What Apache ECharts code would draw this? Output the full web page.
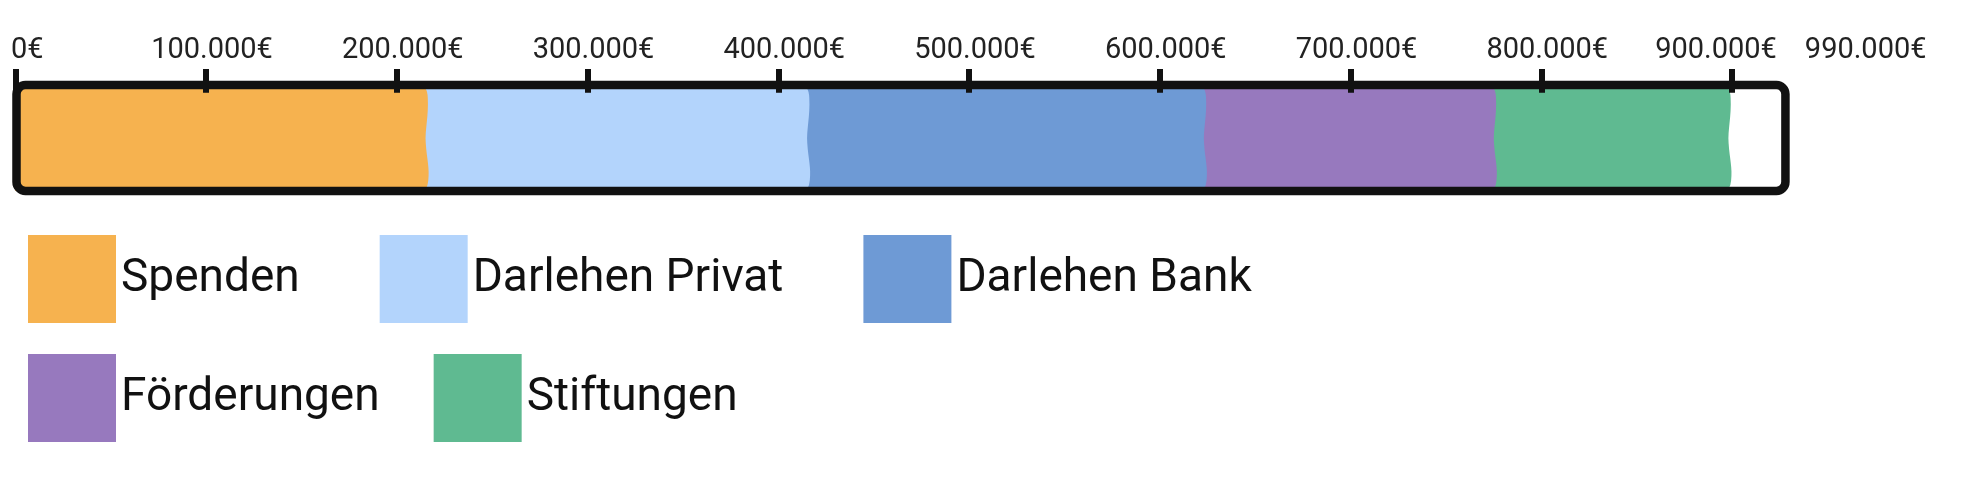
<!DOCTYPE html>
<html>
<head>
<meta charset="utf-8">
<script src="https://cdn.jsdelivr.net/npm/echarts@6/dist/echarts.min.js"></script>
<style>
  html, body { margin: 0; padding: 0; background: #ffffff; }
  #chart { width: 1982px; height: 500px; }
</style>
</head>
<body>
<div id="chart"></div>
<script>
// ---- data ----
const categories = ['Spenden', 'Darlehen Privat', 'Darlehen Bank', 'Förderungen', 'Stiftungen'];
const values = [216000, 200000, 208000, 152000, 123000];
const colors = ['#F6B24F', '#B3D4FC', '#6E9AD5', '#9779BE', '#5FBA91'];
const axisMax = 990000;
const tickValues = [0, 100000, 200000, 300000, 400000, 500000, 600000, 700000, 800000, 900000];
const labelValues = [0, 100000, 200000, 300000, 400000, 500000, 600000, 700000, 800000, 900000, 990000];
const frameEnd = 928000;
const legendRow1 = categories.slice(0, 3);
const legendRow2 = categories.slice(3);

// ---- helpers ----
function fmtEuro(v) {
  return String(v).replace(/\B(?=(\d{3})+(?!\d))/g, '.') + '€';
}

const starts = [];
let acc = 0;
values.forEach(v => { starts.push(acc); acc += v; });

function renderSegment(params, api) {
  const s = api.coord([api.value(0), 0]);
  const e = api.coord([api.value(1), 0]);
  const h = api.size([0, 1])[1];
  const y0 = s[1] - h / 2, y1 = s[1] + h / 2;
  const x0 = s[0] - (api.value(0) === 0 ? 0 : 14);
  const x1 = e[0];
  const d = [
    'M', x0, y0,
    'L', x1 - 8, y0,
    'Q', x1, y0, x1 + 0.5, y0 + 0.12 * h,
    'C', x1 + 1.5, y0 + 0.3 * h, x1 - 2.5, y0 + 0.42 * h, x1 - 1.5, y0 + 0.55 * h,
    'C', x1 - 0.5, y0 + 0.7 * h, x1 + 2.5, y0 + 0.78 * h, x1 + 1, y0 + 0.9 * h,
    'Q', x1, y1, x1 - 6, y1,
    'L', x0, y1, 'Z'
  ].join(' ');
  return {
    type: 'path',
    z2: 10 - params.seriesIndex,
    shape: { pathData: d },
    style: { fill: api.visual('color'), stroke: null }
  };
}

function renderFrame(params, api) {
  const s = api.coord([api.value(0), 0]);
  const e = api.coord([api.value(1), 0]);
  const h = api.size([0, 1])[1];
  return {
    type: 'rect',
    shape: { x: s[0] + 1.25, y: s[1] - h / 2, width: e[0] - s[0] - 1.25, height: h, r: 9 },
    style: { fill: 'none', stroke: '#111111', lineWidth: 8.5 }
  };
}

const labelFont = { fontFamily: 'Roboto', fontSize: 29, color: '#222222' };

const series = categories.map((name, i) => ({
  name: name,
  type: 'custom',
  renderItem: renderSegment,
  itemStyle: { color: colors[i] },
  encode: { x: [0, 1], y: 2 },
  data: [[starts[i], starts[i] + values[i], 0]],
  z: 2,
  silent: true,
  clip: false
}));

series.push({
  name: 'frame',
  type: 'custom',
  renderItem: renderFrame,
  encode: { x: [0, 1], y: 2 },
  data: [[0, frameEnd, 0]],
  z: 4,
  silent: true,
  clip: false
});

const legendCommon = {
  orient: 'horizontal',
  icon: 'rect',
  itemWidth: 88,
  itemHeight: 88,
  left: 28,
  padding: 0,
  selectedMode: false,
  textStyle: { fontFamily: 'Roboto', fontSize: 46, color: '#111111' }
};

const option = {
  backgroundColor: '#ffffff',
  animation: false,
  textStyle: { fontFamily: 'Roboto' },
  grid: { left: 15.25, right: 78.3, top: 85, height: 106, containLabel: false },
  xAxis: {
    type: 'value',
    position: 'top',
    offset: -7.7,
    min: 0,
    max: axisMax,
    z: 10,
    axisLine: { show: false },
    splitLine: { show: false },
    axisTick: {
      show: true,
      length: 23.7,
      customValues: tickValues,
      lineStyle: { color: '#111111', width: 6 }
    },
    axisLabel: {
      show: true,
      margin: 27,
      customValues: labelValues,
      fontFamily: 'Roboto', fontSize: 29, color: '#222222',
      formatter: function (v, idx) {
        const n = labelValues.length;
        let key = 'n';
        if (v === labelValues[0]) key = 'z';
        else if (v === labelValues[n - 1]) key = 'm';
        else if (v === labelValues[n - 2]) key = 'p';
        return '{' + key + '|' + fmtEuro(v) + '}';
      },
      rich: {
        n: Object.assign({ padding: [0, 0, 0, 12] }, labelFont),
        z: Object.assign({ padding: [0, 0, 0, 24] }, labelFont),
        p: Object.assign({ padding: [0, 32, 0, 0] }, labelFont),
        m: Object.assign({ padding: [0, 76, 0, 0] }, labelFont)
      }
    }
  },
  yAxis: {
    type: 'category',
    data: ['Finanzierung'],
    show: false
  },
  legend: [
    Object.assign({}, legendCommon, { top: 235, itemGap: 80, data: legendRow1 }),
    Object.assign({}, legendCommon, { top: 354, itemGap: 54, data: legendRow2 })
  ],
  series: series
};

const chart = echarts.init(document.getElementById('chart'), null, { renderer: 'canvas' });
chart.setOption(option);
</script>
</body>
</html>
